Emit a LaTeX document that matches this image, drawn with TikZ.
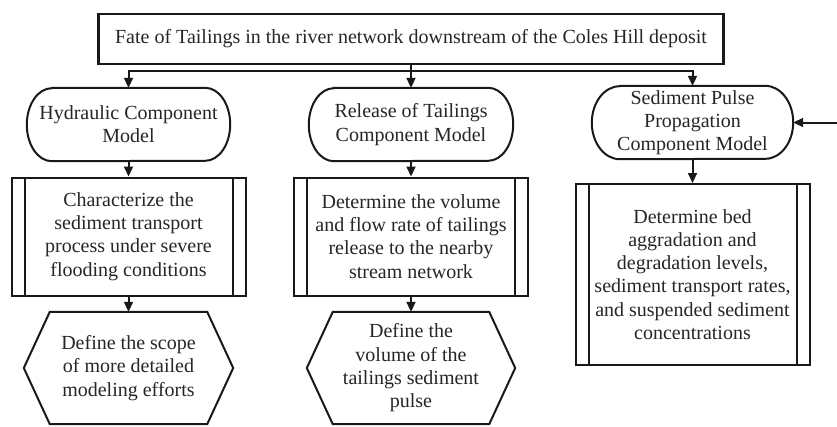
\documentclass[tikz,border=0pt]{standalone}
\usepackage{fontspec}
\setmainfont{Liberation Serif}
\usetikzlibrary{arrows.meta}
\newcommand\termdraw[2]{\draw[ln] ([xshift=#2]#1.north west) -- ([xshift=-#2]#1.north east) arc[start angle=90,end angle=-90,x radius=#2,y radius=36.5pt] -- ([xshift=#2]#1.south west) arc[start angle=270,end angle=90,x radius=#2,y radius=36.5pt] -- cycle;}
\newcommand\hexdraw[2]{\draw[ln] (#1.west) -- ([xshift=#2]#1.north west) -- ([xshift=-#2]#1.north east) -- (#1.east) -- ([xshift=-#2]#1.south east) -- ([xshift=#2]#1.south west) -- cycle;}
\begin{document}
\begin{tikzpicture}[x=1pt,y=-1pt,
  every node/.style={font=\fontsize{20}{23.3}\selectfont, align=center, inner sep=0pt, text=black!85},
  ln/.style={line width=2pt, draw=black!90},
  arr/.style={ln, -{Triangle[length=10pt,width=9pt]}},
  plainbox/.style={draw=black!90, line width=2.1pt},
  procbox/.style={draw=black!90, line width=2pt,
    path picture={\draw[line width=2pt, black!90]
      ([xshift=13pt]path picture bounding box.north west) -- ([xshift=13pt]path picture bounding box.south west)
      ([xshift=-13pt]path picture bounding box.north east) -- ([xshift=-13pt]path picture bounding box.south east);}},
  term/.style={minimum width=#1, minimum height=73pt},
  hexa/.style={minimum width=#1, minimum height=112pt}]
\useasboundingbox[fill=white] (0,0) rectangle (837,426);

\node[plainbox, minimum width=625pt, minimum height=50pt] (top) at (411,39)
  {Fate of Tailings in the river network downstream of the Coles Hill deposit};

% terminators
\node[term=203pt] (hyd) at (128.5,124.5) {Hydraulic Component\\Model};
\node[term=204pt] (rel) at (411,124.5) {Release of Tailings\\Component Model};
\node[term=201pt] (sed) at (692.5,122.5) {Sediment Pulse\\Propagation\\Component Model};
\termdraw{hyd}{25pt}
\termdraw{rel}{25pt}
\termdraw{sed}{28pt}

% process boxes
\node[procbox, minimum width=234pt, minimum height=118pt] (hydp) at (128.5,236.5)
  {Characterize the\\sediment transport\\process under severe\\flooding conditions};
\node[procbox, minimum width=234pt, minimum height=118pt] (relp) at (411,236.5)
  {Determine the volume\\and flow rate of tailings\\release to the nearby\\stream network};
\node[procbox, minimum width=234pt, minimum height=181pt] (sedp) at (692.5,274.5)
  {Determine bed\\aggradation and\\degradation levels,\\sediment transport rates,\\and suspended sediment\\concentrations};

% hexagons
\node[hexa=209pt] (hydh) at (128.5,368) {Define the scope\\of more detailed\\modeling efforts};
\node[hexa=208pt] (relh) at (411,368) {Define the\\volume of the\\tailings sediment\\pulse};
\hexdraw{hydh}{26pt}
\hexdraw{relh}{26pt}

% connectors
\coordinate (jL) at (128.5,71);
\coordinate (jR) at (692.5,71);
\coordinate (ext) at (840,122.5);
\draw[arr] (top.south) -- (rel.north);
\draw[arr] (rel.north |- jL) -- (jL) -- (hyd.north);
\draw[arr] (rel.north |- jR) -- (jR) -- (sed.north);
\draw[arr] (ext) -- (sed.east);
\draw[arr] (hyd.south) -- (hydp.north);
\draw[arr] (rel.south) -- (relp.north);
\draw[arr] (sed.south) -- (sedp.north);
\draw[arr] (hydp.south) -- (hydh.north);
\draw[arr] (relp.south) -- (relh.north);
\end{tikzpicture}
\end{document}
